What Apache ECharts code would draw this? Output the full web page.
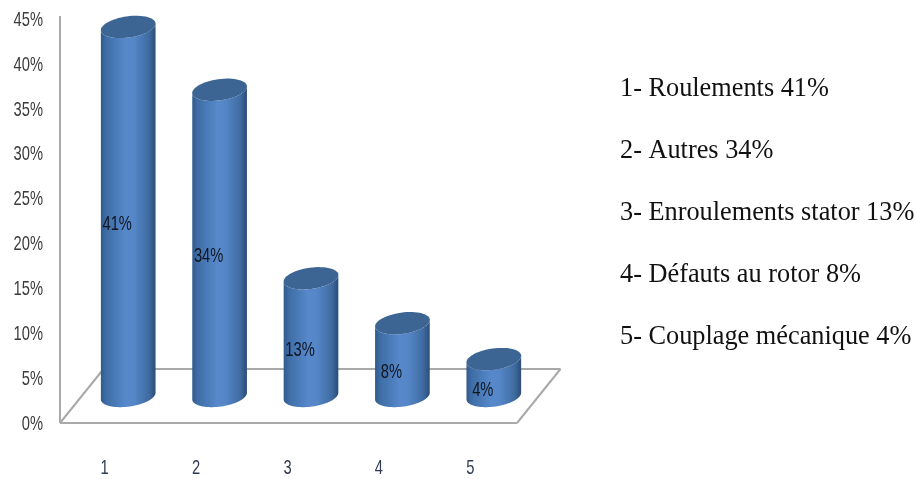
<!DOCTYPE html>
<html>
<head>
<meta charset="utf-8">
<style>html,body{margin:0;padding:0;background:#fff}#c{width:915px;height:479px}</style>
<script src="https://cdn.jsdelivr.net/npm/echarts@6/dist/echarts.min.js"></script>
</head>
<body>
<div id="c"></div>
<script>
const categories = ['1', '2', '3', '4', '5'];
const values = [41, 34, 13, 8, 4];
const dataLabels = ['41%', '34%', '13%', '8%', '4%'];
const yTicks = [0, 5, 10, 15, 20, 25, 30, 35, 40, 45];
const legendLines = [
  '1- Roulements 41%',
  '2- Autres 34%',
  '3- Enroulements stator 13%',
  '4- Défauts au rotor 8%',
  '5- Couplage mécanique 4%'
];

const LABEL_FONT = '21px "Liberation Sans",sans-serif';
const chart = echarts.init(document.getElementById('c'), null, {renderer: 'canvas'});

function narrowText(text, x, y, align, fill) {
  return {
    type: 'text', x: x, y: y, scaleX: 0.7, scaleY: 1,
    style: {text: text, x: 0, y: 0, align: align, verticalAlign: 'middle', font: LABEL_FONT, fill: fill}
  };
}

function tiltedArc(cx, cy, from, to, n) {
  const rx = 27.6, ry = 10.6, tilt = -8 * Math.PI / 180;
  const pts = [];
  for (let i = 0; i <= n; i++) {
    const t = from + (to - from) * i / n;
    const x = rx * Math.cos(t), y = ry * Math.sin(t);
    pts.push([cx + x * Math.cos(tilt) - y * Math.sin(tilt), cy + x * Math.sin(tilt) + y * Math.cos(tilt)]);
  }
  return pts;
}

function renderCylinder(params, api) {
  const idx = api.value(0);
  const p = api.coord([idx, api.value(1)]);
  const p0 = api.coord([idx, 0]);
  const cx = p[0] + 22.5, baseY = p0[1] - 27, topY = p[1] - 28;
  const bottom = tiltedArc(cx, baseY, 0, Math.PI, 40);
  const topEdge = tiltedArc(cx, topY, Math.PI, 0, 40);
  const grad = new echarts.graphic.LinearGradient(0, 0, 1, 0, [
    {offset: 0, color: '#2f5a8c'},
    {offset: 0.1, color: '#3f6ea6'},
    {offset: 0.45, color: '#5688cb'},
    {offset: 0.6, color: '#5587c8'},
    {offset: 0.88, color: '#3f6ba1'},
    {offset: 1, color: '#2b4c75'}
  ]);
  return {
    type: 'group',
    children: [
      {type: 'polygon', shape: {points: bottom.concat(topEdge)}, style: {fill: grad}},
      {type: 'polygon', shape: {points: tiltedArc(cx, topY, 0, 2 * Math.PI, 60)}, style: {fill: '#3d6593'}},
      narrowText(dataLabels[idx], cx - 11, (baseY + topY) / 2 + 13, 'center', '#10151f')
    ]
  };
}

function renderFloor(params, api) {
  const half = api.size([1, 0])[0] / 2;
  const first = api.coord([0, 0]);
  const last = api.coord([categories.length - 1, 0]);
  const top = api.coord([0, 45]);
  const ax = first[0] - half, bx = last[0] + half, y0 = first[1];
  const dx = 43.5, dy = -54;
  const line = (x1, y1, x2, y2) => ({
    type: 'line', shape: {x1, y1, x2, y2},
    style: {stroke: '#a9a9a9', lineWidth: 2}
  });
  return {
    type: 'group',
    children: [
      line(ax, top[1] - 3, ax, y0),
      line(ax, y0, bx, y0),
      line(ax, y0, ax + dx, y0 + dy),
      line(ax + dx, y0 + dy, bx + dx, y0 + dy),
      line(bx, y0, bx + dx, y0 + dy)
    ]
  };
}

function renderYLabel(params, api) {
  const half = api.size([1, 0])[0] / 2;
  const p = api.coord([0, api.value(1)]);
  return narrowText(api.value(1) + '%', p[0] - half - 17, p[1] + 1, 'right', '#3b3b3b');
}

function renderXLabel(params, api) {
  const p = api.coord([api.value(0), 0]);
  return narrowText(categories[api.value(0)], p[0] - 1, p[1] + 45, 'center', '#2f3a55');
}

chart.setOption({
  animation: false,
  backgroundColor: '#fff',
  grid: {left: 60, width: 457, top: 19, height: 404},
  xAxis: {
    type: 'category',
    data: categories,
    axisLine: {show: false},
    axisTick: {show: false},
    axisLabel: {show: false}
  },
  yAxis: {
    type: 'value',
    min: 0,
    max: 45,
    interval: 5,
    axisLine: {show: false},
    axisTick: {show: false},
    splitLine: {show: false},
    axisLabel: {show: false}
  },
  series: [
    {type: 'custom', renderItem: renderFloor, data: [[0, 0]], silent: true, z: 1,
     clip: false, encode: {x: 0, y: 1}},
    {type: 'custom', renderItem: renderCylinder, z: 2, clip: false,
     data: values.map((v, i) => [i, v]), encode: {x: 0, y: 1}},
    {type: 'custom', renderItem: renderYLabel, z: 3, clip: false, silent: true,
     data: yTicks.map(v => [0, v]), encode: {x: 0, y: 1}},
    {type: 'custom', renderItem: renderXLabel, z: 3, clip: false, silent: true,
     data: categories.map((c, i) => [i, 0]), encode: {x: 0, y: 1}}
  ],
  graphic: legendLines.map((t, i) => ({
    type: 'text',
    left: 620,
    top: 76 + i * 62,
    style: {text: t, font: '26.3px "Liberation Serif","Times New Roman",serif', fill: '#111'}
  }))
});
</script>
</body>
</html>
